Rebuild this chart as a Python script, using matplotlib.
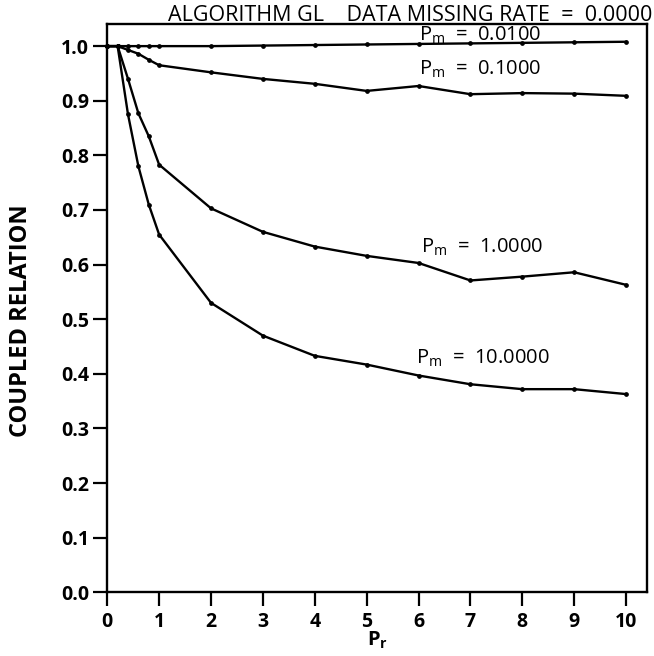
import matplotlib
matplotlib.use("Agg")
import matplotlib.pyplot as plt
import numpy as np

# ---- data ----
pr = [0, 0.2, 0.4, 0.6, 0.8, 1, 2, 3, 4, 5, 6, 7, 8, 9, 10]
pm_001 = [1.0, 1.0, 1.0, 1.0, 1.0, 1.0, 1.0, 1.001, 1.002, 1.003, 1.004, 1.005, 1.006, 1.007, 1.008]
pm_01 = [1.0, 1.0, 0.993, 0.986, 0.975, 0.965, 0.952, 0.940, 0.931, 0.918, 0.927, 0.912, 0.914, 0.913, 0.909]
pm_1 = [1.0, 1.0, 0.94, 0.877, 0.835, 0.783, 0.703, 0.660, 0.633, 0.616, 0.603, 0.571, 0.578, 0.586, 0.563]
pm_10 = [1.0, 1.0, 0.875, 0.78, 0.71, 0.655, 0.530, 0.470, 0.433, 0.417, 0.397, 0.381, 0.372, 0.372, 0.363]

series = [pm_001, pm_01, pm_1, pm_10]
labels = [r"$\mathregular{P_m}$  =  0.0100", r"$\mathregular{P_m}$  =  0.1000",
          r"$\mathregular{P_m}$  =  1.0000", r"$\mathregular{P_m}$  =  10.0000"]
label_pos = [(6.0, 1.019), (6.0, 0.958), (6.05, 0.632), (5.95, 0.428)]

xticks = list(range(0, 11))
yticks = [0.0, 0.1, 0.2, 0.3, 0.4, 0.5, 0.6, 0.7, 0.8, 0.9, 1.0]

title = "ALGORITHM GL    DATA MISSING RATE  =  0.0000"

plt.rcParams['font.family'] = ['Open Sans', 'DejaVu Sans']

fig = plt.figure(figsize=(6.54, 6.56), dpi=100)
ax = fig.add_axes([0.164, 0.097, 0.825, 0.866])

for s in series:
    ax.plot(pr, s, color='black', lw=1.7, marker='o', ms=2.4, clip_on=False)

for lab, (x, y) in zip(labels, label_pos):
    ax.text(x, y, lab, fontsize=14.5, ha='left', va='center', color='black')

ax.set_xlim(0, 10.4)
ax.set_ylim(0, 1.04)
ax.set_xticks(xticks)
ax.set_yticks(yticks)
ax.set_yticklabels([f"{v:.1f}" for v in yticks])
ax.tick_params(axis='both', direction='out', length=10, width=1.6, labelsize=14, pad=3)
ax.tick_params(axis='x', pad=4)
for lbl in ax.get_xticklabels() + ax.get_yticklabels():
    lbl.set_fontweight('bold')
for sp in ax.spines.values():
    sp.set_linewidth(1.7)

ax.set_ylabel("COUPLED RELATION", fontsize=17, fontweight='bold')
ax.yaxis.set_label_coords(-0.137, 0.479)
ax.set_xlabel(r"$\mathregular{P_r}$", fontsize=14.5, fontweight='bold')
ax.xaxis.set_label_coords(0.5, -0.066)

fig.text(0.998, 0.976, title, ha='right', va='center', fontsize=15.5)

fig.savefig("out.png", dpi=100)
